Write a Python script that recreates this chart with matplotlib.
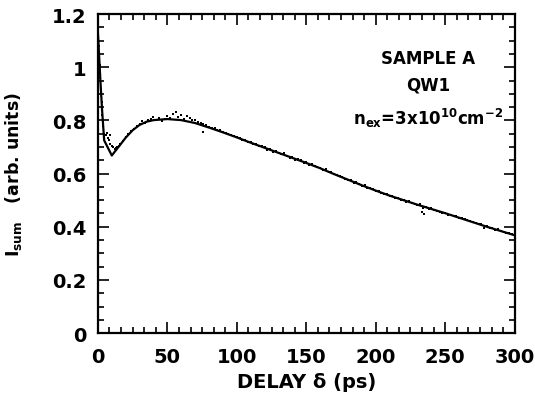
import matplotlib
matplotlib.use("Agg")
import matplotlib.pyplot as plt
from matplotlib.ticker import MultipleLocator, AutoMinorLocator

# fitted curve (solid line)
fit_delay = [0, 1, 2, 3, 4.5, 10, 13, 16, 20, 25, 30, 35, 40, 50, 60, 70, 80, 90,
             100, 110, 120, 130, 140, 150, 160, 170, 180, 190, 200, 210, 220, 230,
             240, 250, 260, 270, 280, 290, 300]
fit_isum = [1.13, 1.03, 0.93, 0.84, 0.725, 0.668, 0.688, 0.708, 0.735, 0.763, 0.783,
            0.795, 0.801, 0.805, 0.801, 0.790, 0.773, 0.755, 0.736, 0.716, 0.697,
            0.678, 0.659, 0.640, 0.620, 0.598, 0.577, 0.556, 0.536, 0.517, 0.500,
            0.483, 0.467, 0.451, 0.434, 0.417, 0.400, 0.384, 0.368]

# measured points (dots)
data_delay = [0.3, 0.8, 1.3, 1.8, 2.3, 2.8, 3.3, 3.8, 4.3, 5.5, 6.5, 7, 8, 8.5, 9,
              10, 11, 12, 13, 14, 15, 16, 18, 20, 22, 24, 26, 28, 30, 32, 34, 36,
              38, 40, 42, 44, 46, 48, 50, 52, 54, 56, 58, 60, 62, 64, 66, 68, 70,
              72, 74, 75.5, 76, 78, 80, 82, 84, 86, 88, 90, 92, 94, 96, 98,
              100, 102, 104, 106, 108, 110, 112, 114, 116, 118, 120, 122, 124, 126,
              128, 130, 132, 134, 136, 138, 140, 142, 144, 146, 148, 150, 152, 154,
              156, 158, 160, 162, 164, 166, 168, 170, 172, 174, 176, 178, 180, 182,
              184, 186, 188, 190, 192, 194, 196, 198, 200, 202, 204, 206, 208, 210,
              212, 214, 216, 218, 220, 222, 224, 226, 228, 230, 232, 233, 234, 235,
              236, 238, 240, 242, 244, 246, 248, 250, 252, 254, 256, 258, 260, 262,
              264, 266, 268, 270, 272, 274, 276, 278, 280, 282, 284, 286, 288, 290,
              292, 294, 296, 298, 300]
data_isum = [1.12, 1.08, 1.01, 0.96, 0.91, 0.87, 0.82, 0.78, 0.75, 0.745, 0.752,
             0.735, 0.728, 0.745, 0.712, 0.705, 0.700, 0.692, 0.697, 0.700, 0.705,
             0.712, 0.722, 0.738, 0.748, 0.760, 0.768, 0.778, 0.786, 0.796, 0.790,
             0.803, 0.806, 0.812, 0.800, 0.808, 0.797, 0.804, 0.815, 0.810, 0.825,
             0.831, 0.812, 0.822, 0.806, 0.818, 0.810, 0.800, 0.803, 0.793, 0.790,
             0.757, 0.787, 0.781, 0.776, 0.771, 0.770, 0.763, 0.762, 0.756, 0.754,
             0.748, 0.746, 0.740,
             0.738, 0.733, 0.727, 0.726, 0.720, 0.718, 0.712, 0.711, 0.704, 0.703,
             0.699, 0.690, 0.692, 0.683, 0.684, 0.679, 0.672, 0.676, 0.667, 0.660,
             0.664, 0.652, 0.654, 0.650, 0.641, 0.643, 0.634, 0.635, 0.628, 0.624,
             0.622, 0.614, 0.617, 0.606, 0.605, 0.600, 0.593, 0.590, 0.588, 0.580,
             0.575, 0.575, 0.566, 0.567, 0.560, 0.554, 0.556, 0.546, 0.544, 0.541,
             0.534, 0.534, 0.526, 0.524, 0.523, 0.515, 0.516, 0.509, 0.508, 0.501,
             0.502, 0.494, 0.496, 0.490, 0.487, 0.481, 0.485, 0.455, 0.470, 0.447,
             0.476, 0.468, 0.469, 0.462, 0.460, 0.456, 0.452, 0.453, 0.445, 0.446,
             0.439, 0.440, 0.433, 0.432, 0.428, 0.425, 0.421, 0.418, 0.416, 0.409,
             0.411, 0.396, 0.403, 0.396, 0.395, 0.389, 0.391, 0.383, 0.382, 0.377,
             0.376, 0.371, 0.367]

plt.rcParams['font.family'] = ['DejaVu Sans']
plt.rcParams['font.weight'] = 'bold'
plt.rcParams['mathtext.default'] = 'regular'

fig = plt.figure(figsize=(5.35, 4.06), dpi=100)
ax = fig.add_axes([0.183, 0.177, 0.779, 0.786])

ax.plot(data_delay, data_isum, 's', color='black', markersize=2.1, markeredgewidth=0)
ax.plot(fit_delay, fit_isum, '-', color='black', linewidth=1.6)

ax.set_xlim(0, 300)
ax.set_ylim(0, 1.2)
ax.xaxis.set_major_locator(MultipleLocator(50))
ax.xaxis.set_minor_locator(AutoMinorLocator(6))
ax.yaxis.set_major_locator(MultipleLocator(0.2))
ax.yaxis.set_minor_locator(AutoMinorLocator(4))
ax.set_yticks([0, 0.2, 0.4, 0.6, 0.8, 1, 1.2])
ax.set_yticklabels(['0', '0.2', '0.4', '0.6', '0.8', '1', '1.2'])

ax.tick_params(which='both', direction='in', top=True, right=True, width=1.2,
               labelsize=14, pad=10)
ax.tick_params(axis='y', pad=8)
ax.tick_params(which='major', length=8)
ax.tick_params(which='minor', length=4)
for s in ax.spines.values():
    s.set_linewidth(1.6)

ax.set_xlabel('DELAY δ (ps)', fontsize=14, fontweight='bold', labelpad=4)
ax.set_ylabel(r'I$_{sum}$   (arb. units)', fontsize=12.5, fontweight='bold', labelpad=20)

ax.text(238, 1.035, 'SAMPLE A', ha='center', va='center', fontsize=12, fontweight='bold')
ax.text(238, 0.935, 'QW1', ha='center', va='center', fontsize=12, fontweight='bold')
ax.text(238, 0.81, r'n$_{ex}$=3x10$^{10}$cm$^{-2}$', ha='center', va='center',
        fontsize=12, fontweight='bold')

fig.savefig('out.png', dpi=100)
